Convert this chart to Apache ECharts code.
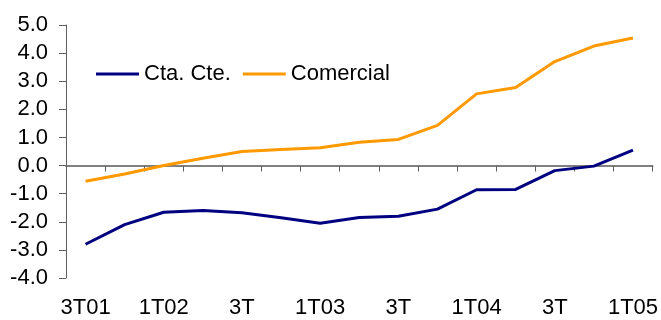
<!DOCTYPE html>
<html>
<head>
<meta charset="utf-8">
<style>
  html, body { margin: 0; padding: 0; background: #fff; }
  #chart { width: 661px; height: 320px; }
</style>
<script src="https://cdn.jsdelivr.net/npm/echarts@6/dist/echarts.min.js"></script>
</head>
<body>
<div id="chart"></div>
<script>
// quarters, labels only every other one are shown
var quarters = ["3T01", "4T", "1T02", "2T", "3T", "4T", "1T03", "2T", "3T", "4T", "1T04", "2T", "3T", "4T", "1T05"];
var ctaCte = [-2.8, -2.1, -1.66, -1.6, -1.68, -1.86, -2.05, -1.85, -1.8, -1.55, -0.86, -0.85, -0.18, -0.02, 0.55];
var comercial = [-0.56, -0.3, 0.0, 0.26, 0.5, 0.57, 0.63, 0.83, 0.93, 1.43, 2.55, 2.78, 3.7, 4.25, 4.54];
var seriesNames = ["Cta. Cte.", "Comercial"];

var font = "'Liberation Sans', Arial, sans-serif";
var myChart = echarts.init(document.getElementById("chart"));

var option = {
  backgroundColor: "#fff",
  animation: false,
  textStyle: { fontFamily: font },
  grid: { left: 66, right: 7, top: 25, bottom: 42, containLabel: false },
  legend: {
    data: seriesNames,
    left: 96,
    top: 63,
    padding: 0,
    icon: "rect",
    itemWidth: 43,
    itemHeight: 3,
    itemGap: 12,
    textStyle: { fontSize: 22, color: "#000", fontFamily: font }
  },
  xAxis: [
    {
      // labels along the bottom
      type: "category",
      data: quarters,
      boundaryGap: true,
      position: "bottom",
      axisLine: { show: false, onZero: false },
      axisTick: { show: false },
      axisLabel: { interval: 1, fontSize: 22, color: "#000", margin: 19, fontFamily: font }
    },
    {
      // zero line with ticks
      type: "category",
      data: quarters,
      boundaryGap: true,
      position: "bottom",
      axisLine: { show: true, onZero: true, lineStyle: { color: "#808080", width: 2 } },
      axisTick: { show: true, interval: 0, length: 6, lineStyle: { color: "#606060", width: 1 } },
      axisLabel: { show: false }
    }
  ],
  yAxis: {
    type: "value",
    min: -4,
    max: 5,
    interval: 1,
    splitLine: { show: false },
    axisLine: { show: true, lineStyle: { color: "#606060", width: 1 } },
    axisTick: { show: true, length: 7, lineStyle: { color: "#606060" } },
    axisLabel: {
      fontSize: 22,
      color: "#000",
      margin: 18,
      fontFamily: font,
      formatter: function (v) { return v.toFixed(1); }
    }
  },
  series: [
    {
      name: seriesNames[0],
      type: "line",
      data: ctaCte,
      symbol: "none",
      color: "#000080",
      lineStyle: { width: 3, color: "#000080" }
    },
    {
      name: seriesNames[1],
      type: "line",
      data: comercial,
      symbol: "none",
      color: "#FF9900",
      lineStyle: { width: 3, color: "#FF9900" }
    }
  ]
};
myChart.setOption(option);
</script>
</body>
</html>
